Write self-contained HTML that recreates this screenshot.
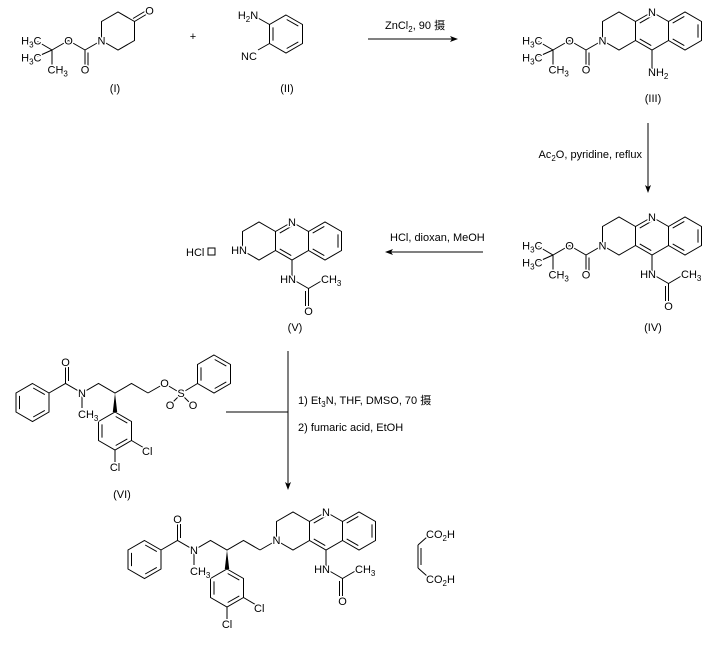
<!DOCTYPE html>
<html><head><meta charset="utf-8"><style>
html,body{margin:0;padding:0;background:#fff}
svg{display:block}
line,polyline{stroke:#000;stroke-width:1}
text{font-family:"Liberation Sans","Noto Sans CJK SC",sans-serif;font-size:11px;fill:#000;stroke:#fff;stroke-width:3;paint-order:stroke;stroke-linejoin:round}
.s{font-size:8px}
.m{text-anchor:middle}
.e{text-anchor:end}
</style></head><body>
<svg width="716" height="647" viewBox="0 0 716 647" xmlns="http://www.w3.org/2000/svg">
<defs>
<g id="bz">
<polygon points="0,-19 16.5,-9.5 16.5,9.5 0,19 -16.5,9.5 -16.5,-9.5" fill="none" stroke="#000"/>
<line x1="0.7" y1="-14.5" x2="12.3" y2="-7.9"/>
<line x1="12.3" y1="7.9" x2="0.7" y2="14.5"/>
<line x1="-13" y1="-6.6" x2="-13" y2="6.6"/>
</g>
<g id="tri">
<polyline fill="none" points="0,0 16.5,9.5 16.5,28.5 0,38 -16.5,28.5 -16.5,9.5 0,0"/>
<line x1="-0.75" y1="4.4" x2="-12.25" y2="11.1"/>
<line x1="-12.25" y1="26.9" x2="-0.75" y2="33.55"/>
<polyline fill="none" points="16.5,9.5 33,0 49.5,9.5 49.5,28.5 33,38 16.5,28.5"/>
<line x1="20.7" y1="11.1" x2="32.3" y2="4.4"/>
<line x1="46" y1="12.35" x2="46" y2="25.65"/>
<line x1="32.3" y1="33.6" x2="20.7" y2="26.9"/>
<polyline fill="none" points="-16.5,9.5 -33,0 -49.5,9.5 -49.5,28.5 -33,38 -16.5,28.5"/>
<line x1="0" y1="38" x2="0" y2="57"/>
</g>
<g id="boc">
<line x1="0" y1="0" x2="-16.5" y2="9.5"/>
<line x1="-16.5" y1="9.5" x2="-16.5" y2="26"/>
<line x1="-13.5" y1="12" x2="-13.5" y2="26"/>
<line x1="-16.5" y1="9.5" x2="-33" y2="0"/>
<line x1="-33" y1="0" x2="-49.5" y2="9.5"/>
<line x1="-49.5" y1="9.5" x2="-64" y2="1"/>
<line x1="-49.5" y1="9.5" x2="-64" y2="16"/>
<line x1="-49.5" y1="9.5" x2="-49.5" y2="24"/>
</g>
<g id="ac">
<line x1="0" y1="57" x2="16.5" y2="66.5"/>
<line x1="16.5" y1="66.5" x2="16.5" y2="84"/>
<line x1="13.5" y1="69" x2="13.5" y2="84"/>
<line x1="16.5" y1="66.5" x2="31" y2="58"/>
</g>
<g id="left">
<polyline fill="none" points="33,0 16.5,-9.5 0,0 -16.5,-9.5 -33,0 -49.5,-9.5 -66,0"/>
<line x1="-33" y1="0" x2="-33" y2="15"/>
<line x1="-49.5" y1="-9.5" x2="-49.5" y2="-26"/>
<line x1="-46.5" y1="-12" x2="-46.5" y2="-26"/>
<use href="#bz" x="-82.5" y="9.5"/>
<polygon points="0,0 -2.2,19 2.2,19" fill="#000"/>
<use href="#bz" x="0" y="38"/>
<line x1="16.5" y1="47.5" x2="30" y2="55.5"/>
<line x1="0" y1="57" x2="0" y2="69"/>
</g>
</defs>

<!-- (I) -->
<g transform="translate(101.5,40.5)">
<polygon points="0,0 0,-19 16.5,-28.5 33,-19 33,0 16.5,9.5" fill="none" stroke="#000"/>
<line x1="33" y1="-19" x2="45.5" y2="-26.5"/>
<line x1="31.5" y1="-22" x2="44" y2="-29.5"/>
<use href="#boc"/>
<text class="m" x="0" y="4">N</text>
<text class="m" x="48" y="-26">O</text>
<text class="m" x="-33" y="4">O</text>
<text class="m" x="-16.5" y="33">O</text>
<text class="e" x="-60" y="4">H<tspan class="s" dy="3">3</tspan><tspan dy="-3">C</tspan></text>
<text class="e" x="-60" y="21">H<tspan class="s" dy="3">3</tspan><tspan dy="-3">C</tspan></text>
<text x="-54" y="33">CH<tspan class="s" dy="3">3</tspan></text>
</g>
<text class="m" x="115" y="92">(I)</text>
<text class="m" x="193" y="40">+</text>

<!-- (II) -->
<use href="#bz" x="286" y="34"/>
<line x1="269.5" y1="24.5" x2="258" y2="18"/>
<line x1="269.5" y1="43.5" x2="258" y2="50"/>
<text class="m" x="248" y="19">H<tspan class="s" dy="3">2</tspan><tspan dy="-3">N</tspan></text>
<text class="m" x="249" y="60">NC</text>
<text class="m" x="287" y="92">(II)</text>

<!-- arrow 1 -->
<line x1="368" y1="39" x2="456" y2="39"/>
<polygon points="458,39 450,36 452,39 450,42"/>
<text x="385" y="29">ZnCl<tspan class="s" dy="3">2</tspan><tspan dy="-3">, 90 摄</tspan></text>

<!-- (III) -->
<g transform="translate(652,12)">
<use href="#tri"/>
<g transform="translate(-49.5,28.5)"><use href="#boc"/>
<text class="m" x="0" y="4">N</text>
<text class="m" x="-33" y="4">O</text>
<text class="m" x="-16.5" y="33">O</text>
<text class="e" x="-60" y="4">H<tspan class="s" dy="3">3</tspan><tspan dy="-3">C</tspan></text>
<text class="e" x="-60" y="21">H<tspan class="s" dy="3">3</tspan><tspan dy="-3">C</tspan></text>
<text x="-54" y="33">CH<tspan class="s" dy="3">3</tspan></text>
</g>
<text class="m" x="0" y="4">N</text>
<text x="-4" y="64">NH<tspan class="s" dy="3">2</tspan></text>
</g>
<text class="m" x="653" y="102">(III)</text>

<!-- arrow 2 -->
<line x1="648" y1="123" x2="648" y2="191"/>
<polygon points="648,193 645,185 648,187 651,185"/>
<text class="e" x="642" y="158">Ac<tspan class="s" dy="3">2</tspan><tspan dy="-3">O, pyridine, reflux</tspan></text>

<!-- (IV) -->
<g transform="translate(652,217)">
<use href="#tri"/><use href="#ac"/>
<g transform="translate(-49.5,28.5)"><use href="#boc"/>
<text class="m" x="0" y="4">N</text>
<text class="m" x="-33" y="4">O</text>
<text class="m" x="-16.5" y="33">O</text>
<text class="e" x="-60" y="4">H<tspan class="s" dy="3">3</tspan><tspan dy="-3">C</tspan></text>
<text class="e" x="-60" y="21">H<tspan class="s" dy="3">3</tspan><tspan dy="-3">C</tspan></text>
<text x="-54" y="33">CH<tspan class="s" dy="3">3</tspan></text>
</g>
<text class="m" x="0" y="4">N</text>
<text class="e" x="4" y="61">HN</text>
<text x="29" y="61">CH<tspan class="s" dy="3">3</tspan></text>
<text class="m" x="16.5" y="93">O</text>
</g>
<text class="m" x="653" y="331">(IV)</text>

<!-- arrow 3 -->
<line x1="387" y1="252" x2="483" y2="252"/>
<polygon points="385,252 393,249 391,252 393,255"/>
<text x="390" y="241">HCl, dioxan, MeOH</text>

<!-- (V) -->
<g transform="translate(292,222)">
<use href="#tri"/><use href="#ac"/>
<text class="m" x="0" y="4">N</text>
<text class="e" x="-45" y="32">HN</text>
<text class="e" x="4" y="61">HN</text>
<text x="29" y="61">CH<tspan class="s" dy="3">3</tspan></text>
<text class="m" x="16.5" y="93">O</text>
</g>
<text x="186" y="256">HCl</text>
<rect x="208" y="248" width="7" height="7" fill="none" stroke="#000"/>
<text class="m" x="295" y="331">(V)</text>

<!-- (VI) -->
<g transform="translate(115,393)">
<use href="#left"/>
<line x1="33" y1="0" x2="47" y2="-8"/>
<line x1="52" y1="-8" x2="62" y2="-2"/>
<line x1="63" y1="4" x2="58" y2="9"/>
<line x1="69" y1="4" x2="74" y2="9"/>
<line x1="70" y1="-2" x2="82.5" y2="-9.5"/>
<use href="#bz" x="99" y="-19"/>
<text class="m" x="-33" y="4">N</text>
<text x="-37" y="25">CH<tspan class="s" dy="3">3</tspan></text>
<text class="m" x="-49.5" y="-27">O</text>
<text x="27" y="62">Cl</text>
<text class="m" x="0" y="78">Cl</text>
<text class="m" x="49.5" y="-6">O</text>
<text class="m" x="66" y="4">S</text>
<text class="m" x="55" y="16">O</text>
<text class="m" x="78" y="16">O</text>
</g>
<text class="m" x="122" y="498">(VI)</text>

<!-- arrow 4 -->
<line x1="226" y1="412" x2="288" y2="412"/>
<line x1="288" y1="351" x2="288" y2="488"/>
<polygon points="288,490 285,482 288,484 291,482"/>
<text x="298" y="404">1) Et<tspan class="s" dy="3">3</tspan><tspan dy="-3">N, THF, DMSO, 70 摄</tspan></text>
<text x="298" y="431">2) fumaric acid, EtOH</text>

<!-- final -->
<g transform="translate(227,550)">
<use href="#left"/>
<line x1="33" y1="0" x2="49.5" y2="-9.5"/>
<text class="m" x="-33" y="4">N</text>
<text x="-37" y="25">CH<tspan class="s" dy="3">3</tspan></text>
<text class="m" x="-49.5" y="-27">O</text>
<text x="27" y="62">Cl</text>
<text class="m" x="0" y="78">Cl</text>
</g>
<g transform="translate(326,512)">
<use href="#tri"/><use href="#ac"/>
<text class="m" x="0" y="4">N</text>
<text class="m" x="-49.5" y="32">N</text>
<text class="e" x="4" y="61">HN</text>
<text x="29" y="61">CH<tspan class="s" dy="3">3</tspan></text>
<text class="m" x="16.5" y="93">O</text>
</g>
<line x1="418" y1="545" x2="418" y2="568"/>
<line x1="421" y1="548" x2="421" y2="565"/>
<line x1="418" y1="545" x2="427" y2="537"/>
<line x1="418" y1="568" x2="427" y2="576"/>
<text x="426" y="538">CO<tspan class="s" dy="3">2</tspan><tspan dy="-3">H</tspan></text>
<text x="426" y="583">CO<tspan class="s" dy="3">2</tspan><tspan dy="-3">H</tspan></text>
</svg>
</body></html>
